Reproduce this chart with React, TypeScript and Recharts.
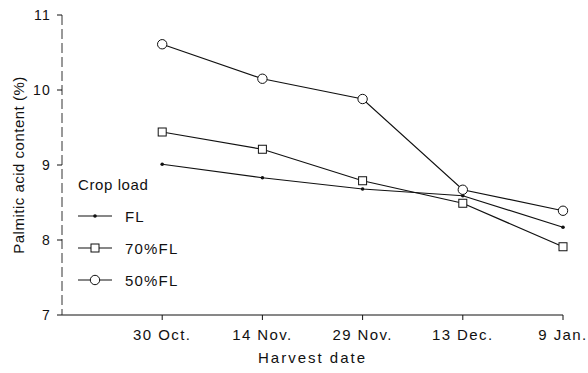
import React from 'react';
import { LineChart, Line, XAxis, YAxis } from 'recharts';

const categories = ['30 Oct.', '14 Nov.', '29 Nov.', '13 Dec.', '9 Jan.'];
const seriesNames = ['FL', '70%FL', '50%FL'];
const flValues = [9.01, 8.83, 8.68, 8.59, 8.17];
const fl70Values = [9.44, 9.21, 8.79, 8.49, 7.91];
const fl50Values = [10.61, 10.15, 9.88, 8.67, 8.39];
const yTicks = [7, 8, 9, 10, 11];

const data = categories.map((c, i) => ({
  idx: i,
  date: c,
  fl: flValues[i],
  fl70: fl70Values[i],
  fl50: fl50Values[i],
}));

const font = '"Liberation Sans", Arial, sans-serif';
const ink = '#111';

// markers
const SmallDot = (props: any) => {
  const { cx, cy } = props;
  if (cx == null || cy == null) return null;
  return <circle cx={cx} cy={cy} r={1.8} fill={ink} stroke="none" />;
};
const SquareDot = (props: any) => {
  const { cx, cy } = props;
  if (cx == null || cy == null) return null;
  return <rect x={cx - 4} y={cy - 4} width={8} height={8} fill="#fff" stroke={ink} strokeWidth={1} />;
};
const CircleDot = (props: any) => {
  const { cx, cy } = props;
  if (cx == null || cy == null) return null;
  return <circle cx={cx} cy={cy} r={4.7} fill="#fff" stroke={ink} strokeWidth={1} />;
};

const legendIcons = [
  <circle key="a" cx={17} cy={8} r={1.8} fill={ink} />,
  <rect key="b" x={13} y={4} width={8} height={8} fill="#fff" stroke={ink} />,
  <circle key="c" cx={17} cy={8} r={4.7} fill="#fff" stroke={ink} />,
];

export default function App() {
  return (
    <div style={{ position: 'absolute', left: 0, top: 0, width: 588, height: 373, background: '#fff', fontFamily: font }}>
      <LineChart width={588} height={373} data={data} margin={{ top: 15, right: 25, bottom: 28, left: 17 }}>
        <XAxis
          type="number"
          dataKey="idx"
          domain={[-1, 4]}
          ticks={[0, 1, 2, 3, 4]}
          tickFormatter={(i: number) => categories[i]}
          axisLine={{ stroke: ink, strokeWidth: 1 }}
          tickLine={{ stroke: ink }}
          tickSize={5}
          tickMargin={9}
          height={30}
          tick={{ fill: ink, fontSize: 15, fontFamily: font, letterSpacing: 1.4 }}
          label={{ value: 'Harvest date', position: 'bottom', offset: 7, fill: ink, fontSize: 15, fontFamily: font, letterSpacing: 2 }}
        />
        <YAxis
          type="number"
          domain={[7, 11]}
          ticks={yTicks}
          width={45}
          axisLine={{ stroke: '#333', strokeDasharray: '10 4' }}
          tickLine={{ stroke: ink }}
          tickSize={5}
          tickMargin={6}
          tick={{ fill: ink, fontSize: 14, fontFamily: font, letterSpacing: 1.2 }}
          label={{ value: 'Palmitic acid content (%)', angle: -90, position: 'insideLeft', offset: 2, fill: ink, fontSize: 15, fontFamily: font, letterSpacing: 0.5, style: { textAnchor: 'middle' } }}
        />
        <Line type="linear" dataKey="fl" name={seriesNames[0]} stroke={ink} strokeWidth={1.2} dot={<SmallDot />} activeDot={false} isAnimationActive={false} />
        <Line type="linear" dataKey="fl70" name={seriesNames[1]} stroke={ink} strokeWidth={1.2} dot={<SquareDot />} activeDot={false} isAnimationActive={false} />
        <Line type="linear" dataKey="fl50" name={seriesNames[2]} stroke={ink} strokeWidth={1.2} dot={<CircleDot />} activeDot={false} isAnimationActive={false} />
      </LineChart>
      <div style={{ position: 'absolute', left: 78, top: 176, color: ink, fontSize: 15, letterSpacing: 0.6 }}>
        <div style={{ height: 24 }}>Crop load</div>
        {seriesNames.map((n) => (
          <div key={n} style={{ display: 'flex', alignItems: 'center', height: 32 }}>
            <svg width={34} height={16}>
              <line x1={0} y1={8} x2={34} y2={8} stroke={ink} strokeWidth={1.2} />
              {legendIcons[seriesNames.indexOf(n)]}
            </svg>
            <span style={{ marginLeft: 13, letterSpacing: 1.2 }}>{n}</span>
          </div>
        ))}
      </div>
    </div>
  );
}
